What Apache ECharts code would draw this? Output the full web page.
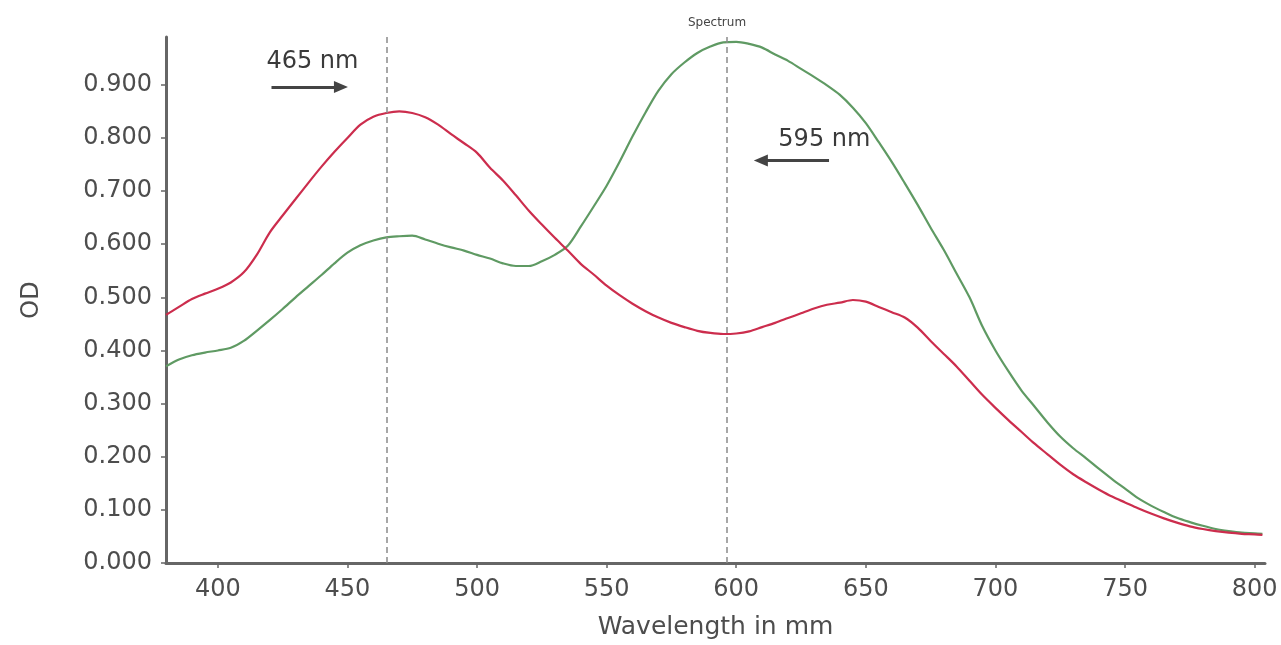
<!DOCTYPE html>
<html>
<head>
<meta charset="utf-8">
<script src="https://cdn.jsdelivr.net/npm/echarts@6/dist/echarts.min.js"></script>
<style>html,body{margin:0;padding:0;background:#fff}#c{width:1281px;height:645px}</style>
</head>
<body>
<div id="c"></div>
<script>
// Wavelengths (nm)
const wavelengths = [380,385,390,395,400,405,410,415,420,425,430,435,440,445,450,455,460,465,470,475,480,485,490,495,500,505,510,515,520,525,530,535,540,545,550,555,560,565,570,575,580,585,590,595,600,605,610,615,620,625,630,635,640,645,650,655,660,665,670,675,680,685,690,695,700,705,710,715,720,725,730,735,740,745,750,755,760,765,770,775,780,785,790,795,800,803];
// Red curve OD
const redOD = [0.467,0.482,0.497,0.507,0.516,0.528,0.547,0.580,0.622,0.654,0.685,0.716,0.746,0.774,0.800,0.825,0.840,0.847,0.850,0.847,0.839,0.825,0.807,0.790,0.772,0.744,0.720,0.692,0.663,0.637,0.612,0.588,0.563,0.543,0.522,0.504,0.488,0.474,0.462,0.452,0.444,0.437,0.433,0.431,0.432,0.436,0.444,0.452,0.461,0.470,0.479,0.486,0.490,0.495,0.492,0.482,0.472,0.462,0.443,0.418,0.394,0.370,0.343,0.316,0.292,0.269,0.247,0.225,0.205,0.185,0.167,0.152,0.138,0.125,0.114,0.103,0.093,0.084,0.076,0.069,0.064,0.060,0.057,0.055,0.054,0.053];
// Green curve OD
const greenOD = [0.370,0.383,0.391,0.396,0.400,0.405,0.418,0.437,0.457,0.478,0.500,0.521,0.542,0.564,0.584,0.598,0.607,0.613,0.615,0.616,0.609,0.601,0.594,0.588,0.580,0.573,0.564,0.559,0.559,0.568,0.580,0.597,0.633,0.671,0.710,0.755,0.803,0.848,0.889,0.920,0.942,0.960,0.972,0.980,0.981,0.977,0.970,0.957,0.945,0.930,0.915,0.899,0.881,0.857,0.828,0.792,0.755,0.715,0.674,0.631,0.590,0.545,0.500,0.445,0.400,0.361,0.325,0.295,0.265,0.238,0.216,0.197,0.177,0.158,0.140,0.122,0.108,0.096,0.085,0.077,0.070,0.064,0.060,0.057,0.056,0.055];
const xTicks = [400,450,500,550,600,650,700,750,800];
const yTicks = [0,0.1,0.2,0.3,0.4,0.5,0.6,0.7,0.8,0.9];
const markers = [465, 596.5];
const markerLabels = ['465 nm', '595 nm'];

const red = wavelengths.map((w,i)=>[w, redOD[i]]);
const green = wavelengths.map((w,i)=>[w, greenOD[i]]);
const font = 'DejaVu Sans';
const chart = echarts.init(document.getElementById('c'));
chart.setOption({
  animation: false,
  backgroundColor: '#fff',
  title: { text: 'Spectrum', left: 712, top: 12, textAlign: 'center',
    textStyle: { fontFamily: font, fontSize: 12, fontWeight: 'normal', color: '#444' } },
  grid: { left: 166, right: 16, top: 37, bottom: 80 },
  xAxis: {
    type: 'value', min: 380, max: 804,
    name: 'Wavelength in mm', nameLocation: 'middle', nameGap: 52,
    nameTextStyle: { fontFamily: font, fontSize: 25, color: '#4d4d4d' },
    axisLine: { lineStyle: { color: '#666', width: 3 } },
    axisTick: { show: true, length: 5, lineStyle: { color: '#666', width: 1.5 }, customValues: xTicks },
    axisLabel: { fontFamily: font, fontSize: 24, color: '#4d4d4d', margin: 15, customValues: xTicks },
    splitLine: { show: false }
  },
  yAxis: {
    type: 'value', min: 0, max: 0.99,
    name: 'OD', nameLocation: 'middle', nameGap: 122, nameRotate: 90,
    nameTextStyle: { fontFamily: font, fontSize: 24, color: '#4d4d4d' },
    axisLine: { show: true, lineStyle: { color: '#666', width: 3 } },
    axisTick: { show: true, length: 5, lineStyle: { color: '#666', width: 1.5 }, customValues: yTicks },
    axisLabel: { fontFamily: font, fontSize: 24, color: '#4d4d4d', margin: 14, customValues: yTicks,
      formatter: v => v.toFixed(3) },
    splitLine: { show: false }
  },
  series: [
    { type: 'line', data: red, showSymbol: false, smooth: 0.3,
      lineStyle: { color: '#cc2d4d', width: 2.2 }, z: 3,
      markLine: {
        silent: true, symbol: ['none','none'], label: { show: false },
        lineStyle: { color: '#8a8a8a', type: [6,4], width: 1.5 },
        data: [
          [{ coord: [markers[0], 0] }, { coord: [markers[0], 0.99] }],
          [{ coord: [markers[1], 0] }, { coord: [markers[1], 0.99] }]
        ]
      }
    },
    { type: 'line', data: green, showSymbol: false, smooth: 0.3,
      lineStyle: { color: '#5f9a63', width: 2.2 }, z: 2,
      markLine: {
        silent: true, symbol: ['none','triangle'], symbolSize: [12, 14], label: { show: false },
        lineStyle: { color: '#444', type: 'solid', width: 3 },
        data: [
          [{ coord: [420.7, 0.896] }, { coord: [447.5, 0.896] }],
          [{ coord: [635.8, 0.7575] }, { coord: [609.5, 0.7575] }]
        ]
      },
      markPoint: {
        silent: true, symbol: 'circle', symbolSize: 0,
        label: { show: true, position: 'inside', formatter: '{b}', fontFamily: font, fontSize: 24, color: '#3a3a3a' },
        data: [
          { name: markerLabels[0], coord: [436.5, 0.943] },
          { name: markerLabels[1], coord: [634.0, 0.797] }
        ]
      }
    }
  ]
});
</script>
</body>
</html>
